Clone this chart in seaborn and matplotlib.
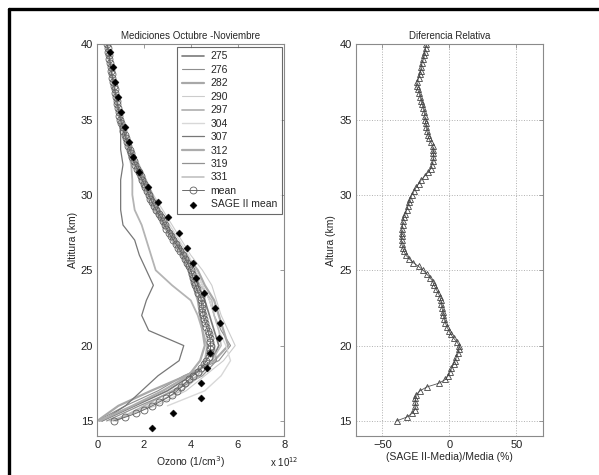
import numpy as np
import seaborn as sns
import matplotlib
matplotlib.use("Agg")
import matplotlib.pyplot as plt
from matplotlib.lines import Line2D

# altitude grid for the mean / relative difference (km)
alt_fine = [15.00 + 0.25 * i for i in range(101)]

# mean ozone profile (x 10^12 1/cm^3), 0.25 km steps from 15 to 40 km
mean_ozone = [
    0.70, 1.20, 1.65, 2.00, 2.35, 2.65, 2.95, 3.20, 3.42, 3.60,
    3.75, 3.92, 4.10, 4.30, 4.45, 4.58, 4.66, 4.76, 4.82, 4.84,
    4.85, 4.84, 4.82, 4.77, 4.72, 4.67, 4.62, 4.57, 4.53, 4.50,
    4.48, 4.46, 4.44, 4.42, 4.30, 4.25, 4.20, 4.15, 4.10, 4.05,
    4.00, 3.93, 3.85, 3.75, 3.65, 3.56, 3.47, 3.36, 3.25, 3.15,
    3.05, 2.96, 2.88, 2.80, 2.72, 2.62, 2.52, 2.43, 2.35, 2.27,
    2.20, 2.13, 2.06, 1.99, 1.92, 1.85, 1.78, 1.70, 1.62, 1.56,
    1.50, 1.44, 1.38, 1.32, 1.27, 1.22, 1.17, 1.12, 1.08, 1.03,
    0.99, 0.95, 0.92, 0.89, 0.86, 0.83, 0.80, 0.77, 0.74, 0.71,
    0.68, 0.65, 0.62, 0.60, 0.57, 0.55, 0.52, 0.50, 0.47, 0.45,
    0.42,
]

# relative difference (SAGE II - mean)/mean (%), same grid
rel_diff = [
    -39.5, -32.0, -28.0, -26.0, -25.5, -25.5, -25.5, -24.8, -22.0, -17.0,
    -8.0, -3.0, -1.0, 0.5, 1.5, 3.0, 4.2, 5.2, 6.5, 7.2,
    7.2, 5.5, 3.0, 1.0, -0.5, -2.0, -3.0, -3.8, -4.5, -5.0,
    -5.5, -6.0, -6.5, -7.2, -8.5, -10.0, -11.5, -12.5, -14.5, -17.0,
    -19.7, -23.0, -27.0, -30.0, -32.5, -34.0, -35.0, -35.5, -35.8, -35.8,
    -35.8, -35.5, -35.0, -34.8, -34.3, -33.0, -32.0, -31.0, -30.0, -29.3,
    -28.0, -26.5, -25.0, -23.0, -21.0, -18.5, -16.0, -14.0, -13.0, -12.2,
    -12.0, -12.0, -12.2, -12.5, -14.0, -15.5, -16.2, -16.8, -17.2, -17.8,
    -18.2, -18.5, -18.8, -19.5, -20.2, -21.0, -21.8, -22.5, -23.8, -24.6,
    -24.2, -23.0, -22.0, -21.5, -21.0, -20.5, -19.5, -18.8, -18.3, -17.8,
    -17.3,
]

# SAGE II mean, 1 km steps from 14.5 to 39.5 km
sage_alt = [14.5 + i for i in range(26)]
sage_ozone = [
    2.36, 3.24, 4.45, 4.42, 4.68, 4.82, 5.21, 5.24, 5.04, 4.55,
    4.22, 4.11, 3.85, 3.48, 3.04, 2.58, 2.16, 1.78, 1.54, 1.34,
    1.17, 1.03, 0.89, 0.77, 0.66, 0.54,
]

# individual soundings, 1 km steps from 15 to 40 km
alt_prof = [15 + i for i in range(26)]
profiles = {
    "275": [0.2, 1.6, 3.0, 4.0, 4.9, 5.2, 5.0, 4.8, 4.6, 4.3, 4.1, 3.7, 3.3,
            2.9, 2.5, 2.2, 1.9, 1.6, 1.35, 1.15, 0.97, 0.84, 0.72, 0.6, 0.5, 0.4],
    "276": [0.0, 1.2, 2.6, 3.7, 5.2, 5.7, 5.3, 5.0, 4.8, 4.5, 4.2, 3.8, 3.4,
            3.0, 2.6, 2.3, 2.0, 1.7, 1.45, 1.2, 1.0, 0.88, 0.76, 0.64, 0.53, 0.43],
    "282": [0.0, 0.9, 2.3, 3.8, 5.0, 5.6, 5.4, 5.2, 5.0, 4.6, 4.3, 3.8, 3.3,
            2.9, 2.55, 2.25, 1.95, 1.65, 1.4, 1.2, 1.0, 0.87, 0.75, 0.63, 0.52, 0.42],
    "290": [0.5, 2.5, 3.8, 4.6, 5.4, 5.9, 5.6, 5.3, 5.1, 4.9, 4.5, 4.0, 3.6,
            3.2, 2.8, 2.4, 2.1, 1.8, 1.5, 1.25, 1.05, 0.9, 0.78, 0.66, 0.55, 0.44],
    "297": [0.8, 2.0, 3.2, 4.3, 4.6, 4.7, 4.5, 4.3, 4.0, 3.2, 2.5, 2.3, 2.1,
            1.9, 1.6, 1.5, 1.5, 1.45, 1.3, 1.15, 0.98, 0.85, 0.73, 0.61, 0.51, 0.41],
    "304": [np.nan, 3.0, 4.6, 5.3, 5.7, 5.5, 5.2, 5.0, 4.8, 4.5, 4.2, 3.9, 3.5,
            3.1, 2.7, 2.35, 2.05, 1.75, 1.5, 1.25, 1.05, 0.9, 0.77, 0.65, 0.54, 0.44],
    "307": [0.2, 1.2, 1.9, 2.6, 3.5, 3.7, 2.2, 1.9, 2.1, 2.4, 2.1, 1.8, 1.6,
            1.1, 1.0, 1.0, 1.0, 1.1, 1.0, 1.0, 0.95, 0.82, 0.7, 0.58, 0.48, 0.4],
    "312": [0.1, 1.5, 2.8, 3.9, 4.4, 4.6, 4.5, 4.4, 4.3, 4.1, 3.9, 3.6, 3.2,
            2.85, 2.5, 2.2, 1.9, 1.6, 1.36, 1.16, 0.98, 0.85, 0.73, 0.61, 0.51, 0.41],
    "319": [0.4, 1.8, 3.3, 4.5, 5.1, 5.0, 4.8, 4.6, 4.5, 4.2, 4.0, 3.7, 3.35,
            3.0, 2.65, 2.35, 2.05, 1.72, 1.45, 1.22, 1.03, 0.88, 0.75, 0.63, 0.52, 0.42],
    "331": [0.6, 2.2, 3.6, 4.4, 4.9, 5.3, 5.2, 5.0, 4.9, 4.4, 4.1, 3.6, 3.2,
            2.8, 2.4, 2.1, 1.8, 1.55, 1.3, 1.1, 0.94, 0.8, 0.69, 0.58, 0.48, 0.38],
}
prof_colors = ["#7a7a7a", "#8e8e8e", "#a8a8a8", "#cccccc", "#b4b4b4",
               "#d8d8d8", "#777777", "#acacac", "#929292", "#bcbcbc"]
prof_widths = [1.2, 0.8, 1.6, 0.8, 1.3, 1.0, 0.9, 1.6, 0.9, 1.1]

sns.set_theme(style="white")
plt.rcParams["font.family"] = ["Liberation Sans", "DejaVu Sans"]
spine_col = "#8a8a8a"

fig = plt.figure(figsize=(5.99, 4.75), dpi=100)
ax1 = fig.add_axes([0.1624, 0.0821, 0.3122, 0.8249])
ax2 = fig.add_axes([0.5938, 0.0821, 0.3132, 0.8249])

# left panel: soundings, mean and SAGE II
for (name, vals), c, w in zip(profiles.items(), prof_colors, prof_widths):
    sns.lineplot(x=vals, y=alt_prof, sort=False, estimator=None, color=c,
                 linewidth=w, label=name, ax=ax1)

sns.lineplot(x=mean_ozone, y=alt_fine, sort=False, estimator=None,
             color="#6a6a6a", linewidth=0.7, marker="o", markersize=5,
             markerfacecolor="none", markeredgecolor="#606060",
             markeredgewidth=0.6, label="mean", ax=ax1)
sns.scatterplot(x=sage_ozone, y=sage_alt, marker="D", s=13, color="black",
                edgecolor="black", linewidth=0.3, label="SAGE II mean",
                zorder=5, ax=ax1)

ax1.set_xlim(0, 8)
ax1.set_ylim(14, 40)
ax1.set_xticks([0, 2, 4, 6, 8])
ax1.set_yticks([15, 20, 25, 30, 35, 40])
ax1.set_title("Mediciones Octubre -Noviembre", fontsize=7, pad=4)
ax1.set_xlabel("Ozono (1/cm$^3$)", fontsize=7.5, labelpad=3)
ax1.set_ylabel("Altitura (km)", fontsize=7.5, labelpad=2)
ax1.text(1.0, -0.048, r"x 10$^{12}$", transform=ax1.transAxes, fontsize=7,
         ha="center", va="top", color="#222222")

handles, labels = ax1.get_legend_handles_labels()
leg = ax1.legend(handles, labels, loc="upper right", fontsize=7.5,
                 frameon=True, fancybox=False, borderpad=0.45,
                 labelspacing=0.33, handlelength=2.2, handletextpad=0.6,
                 borderaxespad=0.25)
leg.get_frame().set_edgecolor("#444444")
leg.get_frame().set_linewidth(0.8)

# right panel: relative difference
sns.lineplot(x=rel_diff, y=alt_fine, sort=False, estimator=None,
             color="#555555", linewidth=0.6, marker="^", markersize=4.8,
             markerfacecolor="none", markeredgecolor="#444444",
             markeredgewidth=0.6, ax=ax2)
ax2.set_xlim(-70, 70)
ax2.set_ylim(14, 40)
ax2.set_xticks([-50, 0, 50])
ax2.set_yticks([15, 20, 25, 30, 35, 40])
ax2.grid(True, linestyle=":", color="#b0b0b0", linewidth=0.7)
ax2.set_title("Diferencia Relativa", fontsize=7, pad=4)
ax2.set_xlabel("(SAGE II-Media)/Media (%)", fontsize=7.5, labelpad=1)
ax2.set_ylabel("Altura (km)", fontsize=7.5, labelpad=2)

for ax in (ax1, ax2):
    for sp in ax.spines.values():
        sp.set_color(spine_col)
        sp.set_linewidth(0.8)
    ax.tick_params(direction="in", length=3, width=0.6, color=spine_col,
                   top=True, right=True, labelsize=8, labelcolor="#222222",
                   pad=3)

# black frame on the top and left edges of the picture
fig.add_artist(Line2D([0.0155, 1.0], [0.981, 0.981], transform=fig.transFigure,
                      color="black", linewidth=2.4))
fig.add_artist(Line2D([0.0155, 0.0155], [0.0, 0.981], transform=fig.transFigure,
                      color="black", linewidth=2.4))

fig.savefig("out.png", dpi=100)
